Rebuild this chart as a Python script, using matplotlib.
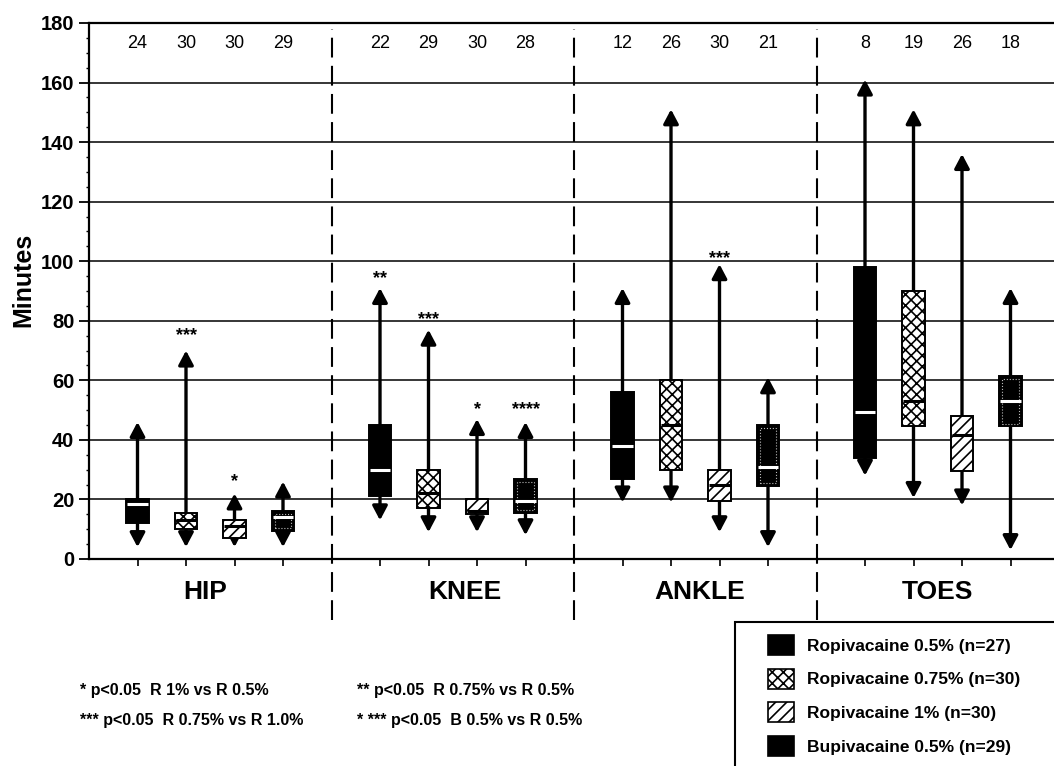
import numpy as np
import matplotlib
matplotlib.use('Agg')
import matplotlib.pyplot as plt
from matplotlib.patches import Patch, Rectangle

plt.rcParams['font.family'] = ['Liberation Sans', 'DejaVu Sans']
plt.rcParams['hatch.linewidth'] = 1.2

# data (minutes)
groups = ['HIP', 'KNEE', 'ANKLE', 'TOES']
series = ['Ropivacaine 0.5% (n=27)', 'Ropivacaine 0.75% (n=30)',
          'Ropivacaine 1% (n=30)', 'Bupivacaine 0.5% (n=29)']

# one row per series, one column per group
counts = [[24, 22, 12, 8], [30, 29, 26, 19], [30, 30, 30, 26], [29, 28, 21, 18]]
q1 = [[12, 21, 27, 34], [10, 17, 30, 44.5], [7, 15, 19.5, 29.5], [9.5, 15.5, 24.5, 44.5]]
med = [[18.5, 30, 38, 49.5], [13, 22, 45, 53], [11, 16, 25, 41.5], [14, 19.5, 31, 53]]
q3 = [[20, 45, 56, 98], [15.5, 30, 60, 90], [13, 20, 30, 48], [16, 27, 45, 61.5]]
lo = [[4, 13, 19, 28], [4, 9, 19, 20.5], [4, 9, 9, 18], [4, 8, 4, 3]]
hi = [[46, 91, 91, 161], [70, 77, 151, 151], [22, 47, 99, 136], [26, 46, 61, 91]]

# significance marks: (group, series, y, text)
stars = [(0, 1, 77, '***'), (0, 2, 28, '*'), (1, 0, 96, '**'), (1, 1, 82.5, '***'),
         (1, 2, 52, '*'), (1, 3, 52, '****'), (2, 2, 103, '***')]

notes = [['* p<0.05  R 1% vs R 0.5%', '** p<0.05  R 0.75% vs R 0.5%'],
         ['*** p<0.05  R 0.75% vs R 1.0%', '* *** p<0.05  B 0.5% vs R 0.5%']]

faces = ['black', 'white', 'white', 'black']
hatches = [None, 'xxx', '///', None]
med_colors = ['white', 'black', 'black', 'white']

W, H = 1054, 766
fig = plt.figure(figsize=(W / 100, H / 100), dpi=100)
ax = fig.add_axes([89 / W, 1 - 559 / H, 1 - 89 / W, (559 - 23) / H])

def pos(i):
    return np.array([1 + 5 * g + i for g in range(len(groups))])

bw = 0.46
for i in range(len(series)):
    x = pos(i)
    for g in range(len(groups)):
        # whiskers with arrow heads
        for start, end in ((q3[i][g], hi[i][g]), (q1[i][g], lo[i][g])):
            ax.annotate('', xy=(x[g], end), xytext=(x[g], start),
                        arrowprops=dict(arrowstyle='-|>,head_length=0.85,head_width=0.45',
                                        lw=2.4, color='black', shrinkA=0, shrinkB=0),
                        zorder=2)
        ax.text(x[g], 173, str(counts[i][g]), ha='center', va='center', fontsize=13)
    ax.bar(x, np.array(q3[i]) - np.array(q1[i]), bottom=q1[i], width=bw,
           color=faces[i], edgecolor='black', linewidth=1.4, hatch=hatches[i], zorder=3)
    if i == 3:
        # bupivacaine boxes: dotted light inner border
        ax.bar(x, np.array(q3[i]) - np.array(q1[i]) - 2, bottom=np.array(q1[i]) + 1,
               width=bw - 0.12, fill=False, edgecolor='#bbbbbb', linewidth=0.8,
               linestyle=':', zorder=4)
    ax.hlines(med[i], x - bw / 2 + 0.02, x + bw / 2 - 0.02, colors=med_colors[i],
              lw=2.2, zorder=5)

for g, i, y, s in stars:
    ax.text(pos(i)[g], y - 3.5, s, ha='center', va='baseline', fontsize=13,
            fontweight='bold')

# group dividers and labels
label_x = [2.4, 7.75, 12.6, 17.5]
for g in range(len(groups)):
    ax.text(label_x[g], -11, groups[g], ha='center', va='center',
            fontsize=19, fontweight='bold')
    if g > 0:
        ax.plot([5 * g, 5 * g], [-20.5, 178], color='black', lw=1.5,
                dashes=(9.5, 4), clip_on=False, zorder=1)

ax.set_xlim(0, (W - 89) / 48.5)
ax.set_ylim(0, 180)
ax.set_yticks(np.arange(0, 181, 20))
ax.set_yticks(np.arange(0, 181, 5), minor=True)
ax.set_xticks(np.concatenate([pos(i) for i in range(4)]))
ax.set_xticklabels([])
ax.grid(axis='y', color='black', lw=1.1, zorder=0)
ax.set_axisbelow(True)
ax.tick_params(axis='y', which='major', length=7, width=1.3, labelsize=14.5)
ax.tick_params(axis='y', which='minor', length=2, width=1)
ax.tick_params(axis='x', length=5, width=1.2)
for lab in ax.get_yticklabels():
    lab.set_fontweight('bold')
ax.spines['right'].set_visible(False)
for s in ('left', 'bottom', 'top'):
    ax.spines[s].set_linewidth(1.6)
ax.set_ylabel('Minutes', fontsize=18, fontweight='bold')
ax.yaxis.set_label_coords(-(89 - 35) / (W - 89), (559 - 280) / (559 - 23))

for r, row in enumerate(notes):
    for c, txt in enumerate(row):
        fig.text([80 / W, 357 / W][c], 1 - (691 + 29 * r) / H, txt, ha='left',
                 va='center', fontsize=11.5, fontweight='bold')

# legend box runs off the lower right corner of the page
fig.patches.append(Rectangle((735 / W, -0.1), 1, (H - 622) / H + 0.1,
                             transform=fig.transFigure, fill=False, lw=1.5,
                             edgecolor='black'))
handles = [Patch(facecolor=faces[i], edgecolor='black', hatch=hatches[i], lw=1.2)
           for i in range(len(series))]
fig.legend(handles, series, loc='upper left', bbox_to_anchor=(768 / W, 1 - 635 / H),
           frameon=False, prop=dict(weight='bold', size=12.5), handlelength=1.5,
           handleheight=1.4, labelspacing=0.78, borderpad=0, handletextpad=0.75,
           borderaxespad=0)

fig.savefig('out.png', dpi=100)
